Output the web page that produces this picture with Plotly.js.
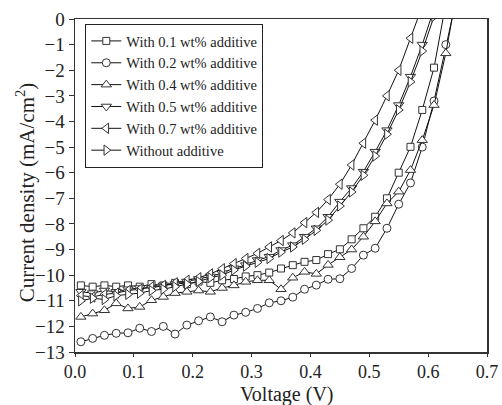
<!DOCTYPE html>
<html>
<head>
<meta charset="utf-8">
<script src="https://cdn.plot.ly/plotly-3.0.1.min.js"></script>
<style>html,body{margin:0;padding:0;background:#fff;}#chart{width:502px;height:405px;}</style>
</head>
<body>
<div id="chart"></div>
<script>
var voltage = [0.01,0.03,0.05,0.07,0.09,0.11,0.13,0.15,0.17,0.19,0.21,0.23,0.25,0.27,0.29,0.31,0.33,0.35,0.37,0.39,0.41,0.43,0.45,0.47,0.49,0.51,0.53,0.55,0.57,0.59,0.61,0.63,0.65];

var seriesNames = ["With 0.1 wt% additive","With 0.2 wt% additive","With 0.4 wt% additive","With 0.5 wt% additive","With 0.7 wt% additive","Without additive"];

var j01 = [-10.40,-10.45,-10.40,-10.45,-10.40,-10.45,-10.35,-10.40,-10.30,-10.35,-10.25,-10.30,-10.20,-10.15,-10.05,-10.00,-9.90,-9.74,-9.61,-9.48,-9.41,-9.18,-8.99,-8.60,-8.17,-7.72,-7.00,-6.00,-4.99,-3.55,-1.90,0.60];
var j02 = [-12.60,-12.47,-12.35,-12.27,-12.25,-12.07,-12.20,-12.00,-12.30,-11.95,-11.78,-11.63,-11.82,-11.56,-11.45,-11.30,-11.08,-11.00,-10.86,-10.55,-10.39,-10.16,-10.14,-9.74,-9.22,-8.95,-8.17,-7.23,-6.40,-5.00,-3.20,-1.00,1.00];
var j04 = [-11.63,-11.50,-11.37,-11.10,-11.30,-11.24,-10.98,-10.85,-10.70,-10.65,-10.60,-10.65,-10.50,-10.40,-10.26,-10.20,-10.20,-10.55,-10.10,-9.87,-9.95,-9.60,-9.30,-9.00,-8.50,-7.90,-7.20,-6.74,-5.90,-4.73,-3.36,-1.34,1.20];
var j05 = [-10.65,-10.70,-10.60,-10.65,-10.55,-10.50,-10.50,-10.40,-10.35,-10.25,-10.15,-10.05,-9.92,-9.73,-9.61,-9.41,-9.28,-9.02,-8.83,-8.50,-8.17,-7.72,-7.13,-6.60,-5.96,-5.18,-4.34,-3.36,-2.25,-1.00,0.40];
var j07 = [-10.80,-10.85,-10.75,-10.70,-10.60,-10.55,-10.45,-10.40,-10.30,-10.20,-10.10,-9.95,-9.75,-9.55,-9.35,-9.15,-8.90,-8.65,-8.35,-7.95,-7.55,-7.05,-6.45,-5.70,-4.85,-3.95,-3.00,-2.00,-0.75,0.50];
var jNone = [-11.00,-10.90,-10.95,-10.80,-10.75,-10.70,-10.60,-10.55,-10.45,-10.35,-10.25,-10.10,-10.00,-9.80,-9.65,-9.50,-9.35,-9.10,-8.90,-8.60,-8.25,-7.85,-7.30,-6.75,-6.10,-5.35,-4.50,-3.55,-2.45,-1.25,0.10,1.20];

var xTickVals = [0,0.1,0.2,0.3,0.4,0.5,0.6,0.7];
var xTickText = ["0.0","0.1","0.2","0.3","0.4","0.5","0.6","0.7"];
var yTickVals = [0,-1,-2,-3,-4,-5,-6,-7,-8,-9,-10,-11,-12,-13];
var xTitle = "Voltage (V)";
var yTitle = "Current density (mA/cm<sup>2</sup>)";

var allJ = [j01,j02,j04,j05,j07,jNone];
var symbols = ["square","circle","triangle-up","triangle-down","triangle-left","triangle-right"];
var sizes = [7,8,9,9,9,9];

var traces = allJ.map(function(j,i){
  return {
    x: voltage.slice(0,j.length), y: j,
    name: seriesNames[i],
    type: "scatter", mode: "lines+markers",
    line: {color:"#111", width:1},
    marker: {symbol:symbols[i], size:sizes[i], color:"#fff", line:{color:"#333", width:1}}
  };
});

var serif = "Liberation Serif, Times New Roman, serif";
var layout = {
  width: 502, height: 405,
  margin: {l:75, r:15, t:19, b:53},
  paper_bgcolor: "#fff", plot_bgcolor: "#fff",
  font: {family: serif, color:"#222"},
  showlegend: true,
  legend: {x:0.025, y:0.985, xanchor:"left", yanchor:"top", bgcolor:"#fff",
           bordercolor:"#222", borderwidth:1, font:{family:serif, size:14.5, color:"#222"},
           tracegroupgap:0, itemwidth:30},
  xaxis: {range:[0,0.7], tickvals:xTickVals, ticktext:xTickText, ticks:"outside", ticklen:3,
          tickcolor:"#333", showline:true, mirror:true, linecolor:"#333", linewidth:1.5,
          showgrid:false, zeroline:false, tickfont:{family:serif, size:18, color:"#222"}},
  yaxis: {range:[-13,0], tickvals:yTickVals, ticks:"outside", ticklen:5,
          tickcolor:"#333", showline:true, mirror:true, linecolor:"#333", linewidth:1.5,
          showgrid:false, zeroline:false, tickfont:{family:serif, size:19, color:"#222"}},
  annotations: [
    {text:xTitle, xref:"paper", yref:"paper", x:0.515, y:-0.127, xanchor:"center", yanchor:"middle",
     showarrow:false, font:{family:serif, size:20, color:"#222"}},
    {text:yTitle, xref:"paper", yref:"paper", x:-0.121, y:0.48, xanchor:"center", yanchor:"middle",
     textangle:-90, showarrow:false, font:{family:serif, size:21, color:"#222"}}
  ]
};

Plotly.newPlot("chart", traces, layout, {displayModeBar:false, staticPlot:true});
</script>
</body>
</html>
